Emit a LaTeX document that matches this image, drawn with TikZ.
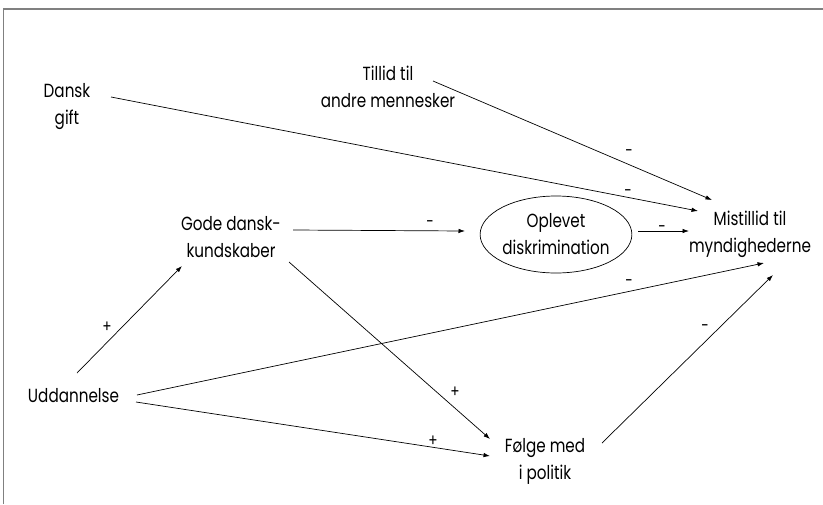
\documentclass[tikz,border=0pt]{standalone}
\usepackage{fontspec}
\setmainfont{Poppins}[FakeStretch=0.8]
\usetikzlibrary{arrows.meta,shapes.geometric}
\begin{document}
\begin{tikzpicture}[x=1pt,y=-1pt,
  txt/.style={align=center,font=\fontsize{19}{27}\selectfont,inner sep=0pt},
  lbl/.style={font=\fontsize{17}{17}\selectfont,inner sep=0pt},
  arr/.style={-{Latex[length=6.5pt,width=4.5pt]},line width=0.7pt},
  frame/.style={draw=black!50,line width=1.5pt}]
\useasboundingbox (0,0) rectangle (823,504);
\draw[frame] (3.5,504) -- (3.5,9) -- (823,9);
% nodes
\node[txt] (dansk) at (67,106.5) {Dansk\\gift};
\node[txt] (tillid) at (388,86.5) {Tillid til\\andre mennesker};
\node[txt] (gode) at (231,237) {Gode dansk-\\kundskaber};
\node[txt,draw,ellipse,line width=0.7pt,minimum width=148pt,minimum height=77pt] (opl) at (556,234.5) {Oplevet\\diskrimination};
\node[txt] (mist) at (750,234) {Mistillid til\\myndighederne};
\node[txt] (udd) at (73.5,396) {Uddannelse};
\node[txt] (folge) at (545,461) {Følge med\\i politik};
% connectors
\draw[arr] ([shift={(44,-9.5)}]dansk.center) -- ([shift={(-52,-23)}]mist.center);
\draw[arr] ([shift={(45,-5.5)}]tillid.center) -- ([shift={(-38,-34)}]mist.center);
\draw[arr] ([shift={(62,-7)}]gode.center) -- ([shift={(-91,-3.5)}]opl.center);
\draw[arr] ([shift={(82,-3.5)}]opl.center) -- ([shift={(-61,-3)}]mist.center);
\draw[arr] ([shift={(63.5,-1)}]udd.center) -- ([shift={(14,29)}]mist.center);
\draw[arr] ([shift={(57,-18)}]folge.center) -- ([shift={(23,41)}]mist.center);
\draw[arr] ([shift={(3.5,-23)}]udd.center) -- ([shift={(-49,29)}]gode.center);
\draw[arr] ([shift={(58,25)}]gode.center) -- ([shift={(-55,-22)}]folge.center);
\draw[arr] ([shift={(62.5,6)}]udd.center) -- ([shift={(-55,-5)}]folge.center);
% labels
\node[lbl] (l1) at (628,193) {-};
\node[lbl] (l2) at (629,153) {-};
\node[lbl] (l3) at (430,224) {-};
\node[lbl] (l4) at (662,229) {-};
\node[lbl] (l5) at (629,283) {-};
\node[lbl] (l6) at (705,328) {-};
\node[lbl] (l7) at (107,327) {+};
\node[lbl] (l8) at (455,392) {+};
\node[lbl] (l9) at (433,441) {+};
\end{tikzpicture}
\end{document}
